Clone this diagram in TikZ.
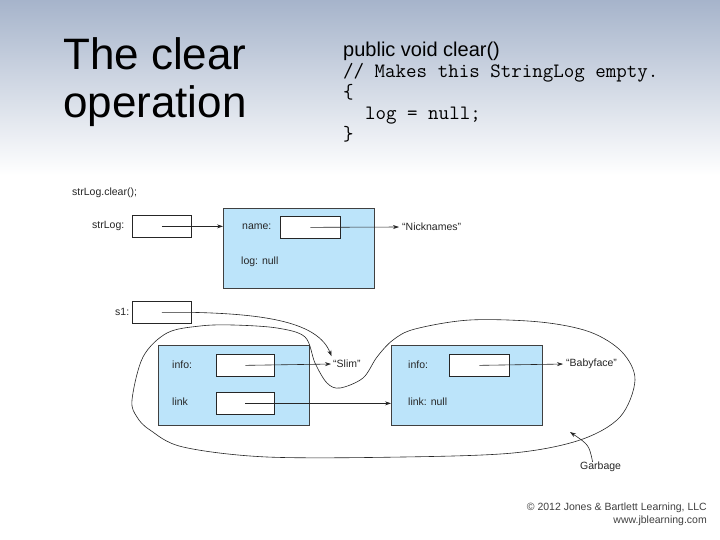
\documentclass[tikz,border=0pt]{standalone}
\usepackage{fontspec}
\setmainfont{Liberation Sans}
\usetikzlibrary{positioning,arrows.meta}

\definecolor{objblue}{RGB}{188,228,250}
\definecolor{slidetop}{RGB}{166,180,203}

\begin{document}
\begin{tikzpicture}[x=1pt, y=-1pt,
    objbox/.style={draw=black!75, fill=objblue, line width=0.8pt, minimum width=151pt, minimum height=80pt, anchor=north west, inner sep=0pt},
    refbox/.style={draw=black!85, fill=white, line width=0.7pt, minimum width=59pt, minimum height=22pt, anchor=north west, inner sep=0pt},
    lbl/.style={font=\fontsize{10.5}{12}\selectfont, text=black!85, anchor=west, inner sep=0pt},
    ptr/.style={-{Stealth[length=6pt,width=4pt]}, line width=0.6pt, draw=black!85},
    titletext/.style={font=\fontsize{44}{48}\selectfont, anchor=base west, inner sep=0pt},
    codeline/.style={font=\fontsize{20.4}{22}\selectfont\ttfamily, anchor=base west, inner sep=0pt},
    credit/.style={font=\fontsize{10.5}{12}\selectfont, text=black!75, anchor=base east, inner sep=0pt},
]
\useasboundingbox (0,0) rectangle (720,540);

% Slide background
\fill[white] (0,0) rectangle (720,540);
\shade[top color=slidetop, bottom color=white] (0,0) rectangle (720,175);

% Title
\node[titletext] (title1) at (63,70) {The clear};
\node[titletext] (title2) at (63,118) {operation};

% Code
\node[font=\fontsize{20}{22}\selectfont, anchor=base west, inner sep=0pt] (sig) at (343,57) {public void clear()};
\node[codeline] (comment) at (343,78) {// Makes this StringLog empty.};
\node[codeline] (openbrace) at (343,99) {\{};
\node[codeline] (stmt) at (365,120) {log = null;};
\node[codeline] (closebrace) at (343,141) {\}};

% strLog object
\node[lbl] (call) at (72,193) {strLog.clear();};
\node[lbl] (strloglbl) at (92,226) {strLog:};
\node[refbox] (strlogref) at (132,215) {};
\node[objbox] (logobj) at (223,208) {};
\node[lbl] (namelbl) at (242,227) {name:};
\node[refbox, minimum width=60pt] (nameref) at (280,216) {};
\node[lbl] (lognull) at (241,262) {log: null};
\node[lbl] (nick) at (402,227) {``Nicknames''};

% Linked nodes
\node[lbl] (s1lbl) at (115,312) {s1:};
\node[refbox] (s1ref) at (132,301) {};
\node[objbox] (slimnode) at (158,345) {};
\node[lbl] (info1) at (172,365) {info:};
\node[refbox, minimum width=58pt] (info1ref) at (216,354) {};
\node[lbl] (link1) at (172,402) {link};
\node[refbox, minimum width=58pt] (link1ref) at (216,392) {};
\node[lbl] (slim) at (333,364) {``Slim''};
\node[objbox] (babynode) at (391,345) {};
\node[lbl] (info2) at (408,365) {info:};
\node[refbox, minimum width=60pt] (info2ref) at (449,354) {};
\node[lbl] (link2) at (408,402) {link: null};
\node[lbl] (baby) at (566,364) {``Babyface''};
\node[lbl] (garbage) at (580,467) {Garbage};

% References
\draw[ptr] (strlogref.center) -- (strlogref.center -| logobj.west);
\draw[ptr, shorten >=3pt] (nameref.center) -- (nick.west);
\draw[ptr, shorten >=2pt] (info1ref.center) -- (slim.west);
\draw[ptr] (link1ref.center) -- (link1ref.center -| babynode.west);
\draw[ptr, shorten >=3pt] (info2ref.center) -- (baby.west);
\draw[ptr, shorten >=4pt] (s1ref.center) -- (s1ref.east) .. controls (265,314) and (318,322) .. (slim.north west);

% Garbage loop
\draw[line width=0.6pt, draw=black!85] plot[smooth cycle, tension=0.55] coordinates {
  (132,400) (143,357) (167,333) (200,326) (233,325) (277,328) (305,337)
  (315,363) (327,383) (340,388) (363,378) (377,357) (393,340) (415,329)
  (470,320) (540,322) (590,332) (622,352) (635,380) (620,417) (580,440)
  (513,453) (403,457) (267,457) (183,447) (150,430) (137,417)};
\coordinate (garbtip) at (570,432);
\draw[ptr] ([xshift=-8pt]garbage.north) .. controls (589,445) .. (garbtip);

% Credit line
\node[credit] (credit1) at (707,510) {\textcopyright\ 2012 Jones \& Bartlett Learning, LLC};
\node[credit] (credit2) at (707,523) {www.jblearning.com};
\end{tikzpicture}
\end{document}
